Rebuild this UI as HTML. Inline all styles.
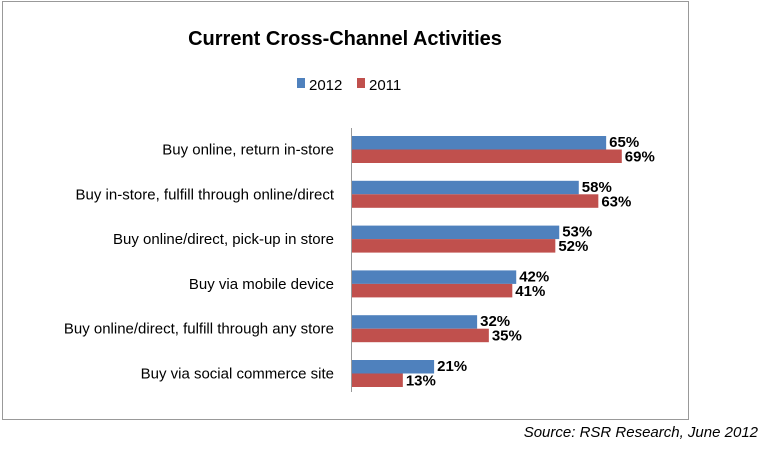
<!DOCTYPE html>
<html><head><meta charset="utf-8"><style>
body{margin:0;width:767px;height:447px;background:#fff;overflow:hidden;font-family:"Liberation Sans",sans-serif}
</style></head><body>
<svg width="767" height="447">
<rect x="2.5" y="1.5" width="686" height="418" fill="#fff" stroke="#999"/>
<text x="345" y="45" text-anchor="middle" font-size="20" font-weight="bold">Current Cross-Channel Activities</text>
<g>
<rect x="297" y="78" width="8" height="10" fill="#4f81bd"/>
<text x="309" y="90" font-size="15">2012</text>
<rect x="357" y="78" width="8" height="10" fill="#c0504d"/>
<text x="369" y="90" font-size="15">2011</text>
</g>
<g id="plot"></g>
<line x1="351.5" y1="128" x2="351.5" y2="392" stroke="#999"/>
<text x="758" y="437" text-anchor="end" font-size="15" font-style="italic">Source: RSR Research, June 2012</text>
</svg>
<script>
const categories=["Buy online, return in-store","Buy in-store, fulfill through online/direct","Buy online/direct, pick-up in store","Buy via mobile device","Buy online/direct, fulfill through any store","Buy via social commerce site"];
const values2012=[65,58,53,42,32,21];
const values2011=[69,63,52,41,35,13];
const NS="http://www.w3.org/2000/svg";
const g=document.getElementById('plot');
const x0=352,scale=3.91,top0=136,step=44.8,bh=13.5;
function xs(v){return v*scale;}
function yRow(i){return top0+i*step;}
function mk(t,a){const e=document.createElementNS(NS,t);for(const k in a)e.setAttribute(k,a[k]);g.appendChild(e);return e;}
categories.forEach((c,i)=>{
  const y=yRow(i);
  const l=mk('text',{x:334,y:y+bh+5,'text-anchor':'end','font-size':15,fill:'#000'});l.textContent=c;
  
  
  const b1=mk('rect',{x:x0,y:y,width:xs(values2012[i]),height:bh,fill:'#4f81bd'});
  
  
  const b2=mk('rect',{x:x0,y:y+bh,width:xs(values2011[i]),height:bh,fill:'#c0504d'});
  
  
  const t1=mk('text',{x:x0+xs(values2012[i])+3,y:y+11,'font-size':15,'font-weight':'bold'});t1.textContent=values2012[i]+'%';
  
  
  const t2=mk('text',{x:x0+xs(values2011[i])+3,y:y+bh+12,'font-size':15,'font-weight':'bold'});t2.textContent=values2011[i]+'%';
  
  
});
</script>
</body></html>
